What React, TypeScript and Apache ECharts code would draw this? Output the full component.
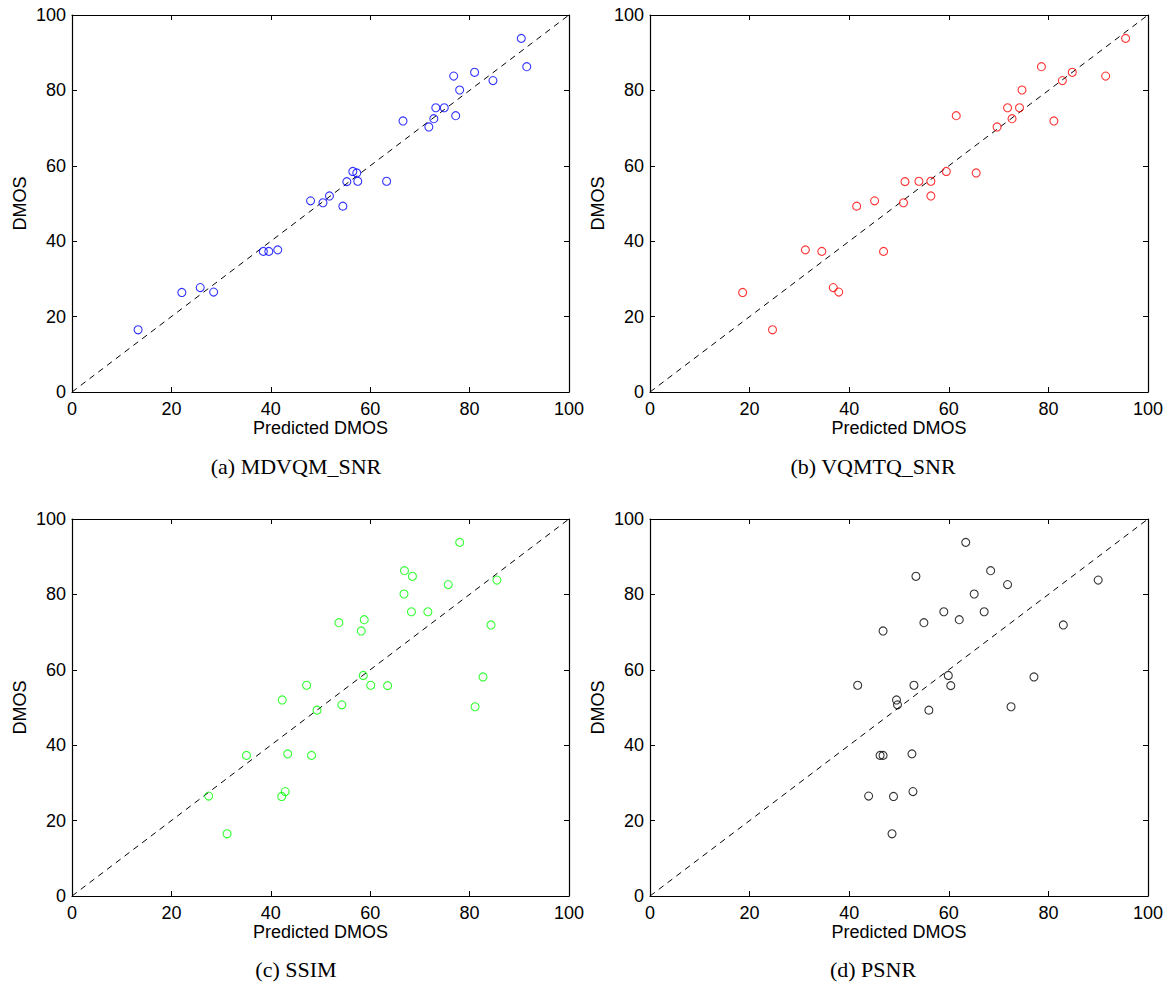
import React, { useEffect, useRef } from "react";
import * as echarts from "echarts";

// [predicted DMOS, DMOS]
const mdvqmPoints: number[][] = [
  [13.3, 16.5], [22.1, 26.4], [25.8, 27.7], [28.5, 26.5], [38.5, 37.3], [39.6, 37.3],
  [41.4, 37.7], [48.0, 50.7], [50.5, 50.2], [51.8, 52.0], [54.5, 49.3], [55.3, 55.8],
  [56.5, 58.5], [57.3, 58.1], [57.5, 55.9], [63.3, 55.9], [66.6, 71.9], [71.8, 70.3],
  [72.8, 72.5], [73.2, 75.4], [74.9, 75.4], [77.2, 73.3], [76.8, 83.8], [78.0, 80.1],
  [81.0, 84.8], [84.7, 82.6], [90.4, 93.8], [91.5, 86.3],
];
const vqmtqPoints: number[][] = [
  [18.6, 26.4], [24.6, 16.5], [31.2, 37.7], [34.5, 37.3], [36.8, 27.7], [37.9, 26.5],
  [41.5, 49.3], [45.1, 50.7], [46.9, 37.3], [50.9, 50.2], [51.2, 55.8], [54.0, 55.9],
  [56.4, 55.9], [56.4, 52.0], [59.5, 58.5], [61.5, 73.3], [65.5, 58.1], [69.7, 70.3],
  [71.8, 75.4], [72.7, 72.5], [74.2, 75.4], [74.7, 80.1], [78.6, 86.3], [81.1, 71.9],
  [82.8, 82.6], [84.8, 84.8], [91.5, 83.8], [95.5, 93.8],
];
const ssimPoints: number[][] = [
  [27.5, 26.5], [31.2, 16.5], [35.1, 37.3], [42.3, 52.0], [42.2, 26.4], [42.9, 27.7],
  [43.4, 37.7], [47.2, 55.9], [48.2, 37.3], [49.3, 49.3], [53.7, 72.5], [54.3, 50.7],
  [58.2, 70.3], [58.6, 58.5], [58.8, 73.3], [60.1, 55.9], [63.5, 55.8], [66.8, 80.1],
  [66.9, 86.3], [68.3, 75.4], [68.5, 84.8], [71.6, 75.4], [75.7, 82.6], [78.0, 93.8],
  [81.1, 50.2], [82.7, 58.1], [84.3, 71.9], [85.5, 83.8],
];
const psnrPoints: number[][] = [
  [41.7, 55.9], [43.9, 26.5], [46.2, 37.3], [46.8, 37.3], [46.8, 70.3], [48.6, 16.5],
  [48.9, 26.4], [49.5, 52.0], [49.7, 50.7], [52.6, 37.7], [52.8, 27.7], [53.0, 55.9],
  [53.4, 84.8], [55.0, 72.5], [56.0, 49.3], [59.0, 75.4], [59.9, 58.5], [60.4, 55.8],
  [62.1, 73.3], [63.4, 93.8], [65.1, 80.1], [67.1, 75.4], [68.4, 86.3], [71.8, 82.6],
  [72.5, 50.2], [77.1, 58.1], [83.0, 71.9], [90.0, 83.8],
];
const identityLine: number[][] = [[0, 0], [100, 100]];
const captions = ["(a) MDVQM_SNR", "(b) VQMTQ_SNR", "(c) SSIM", "(d) PSNR"];
const xAxisName = "Predicted DMOS";
const yAxisName = "DMOS";
const axisMin = 0;
const axisMax = 100;
const axisInterval = 20;

const panels = [
  { points: mdvqmPoints, color: "#0000ff" },
  { points: vqmtqPoints, color: "#ff0000" },
  { points: ssimPoints, color: "#00ff00" },
  { points: psnrPoints, color: "#000000" },
];

const SANS = "'Liberation Sans', Arial, Helvetica, sans-serif";
const SERIF = "'Liberation Serif', 'Times New Roman', serif";

const grids = [
  { left: 72, top: 15, width: 497, height: 377 },
  { left: 650, top: 15, width: 498, height: 377 },
  { left: 72, top: 519, width: 497, height: 377 },
  { left: 650, top: 519, width: 498, height: 377 },
];
const captionPos = [
  { x: 296, y: 466 },
  { x: 873, y: 466 },
  { x: 296, y: 969 },
  { x: 873, y: 969 },
];

export default function App() {
  const ref = useRef<HTMLDivElement>(null);
  useEffect(() => {
    if (!ref.current) return;
    const chart = echarts.init(ref.current, null, { renderer: "svg" });
    const lineStyle = { color: "#000", width: 1.2 };
    const tick = { show: true, inside: true, length: 5, lineStyle: { color: "#000", width: 1 } };
    const xAxis: any[] = [];
    const yAxis: any[] = [];
    const series: any[] = [];
    grids.forEach((_, i) => {
      const common = {
        type: "value",
        gridIndex: i,
        min: axisMin,
        max: axisMax,
        interval: axisInterval,
        splitLine: { show: false },
        axisLine: { show: true, onZero: false, lineStyle },
        axisTick: tick,
      };
      xAxis.push({
        ...common,
        position: "bottom",
        name: xAxisName,
        nameLocation: "middle",
        nameGap: 27,
        nameTextStyle: { fontFamily: SANS, fontSize: 18, color: "#000" },
        axisLabel: { show: true, margin: 8, fontFamily: SANS, fontSize: 18, color: "#000" },
      });
      xAxis.push({ ...common, position: "top", axisLabel: { show: false } });
      yAxis.push({
        ...common,
        position: "left",
        name: yAxisName,
        nameLocation: "middle",
        nameGap: 43,
        nameTextStyle: { fontFamily: SANS, fontSize: 18, color: "#000" },
        axisLabel: { show: true, margin: 6, fontFamily: SANS, fontSize: 18, color: "#000" },
      });
      yAxis.push({ ...common, position: "right", axisLabel: { show: false } });
      series.push({
        type: "line",
        xAxisIndex: i * 2,
        yAxisIndex: i * 2,
        data: identityLine,
        showSymbol: false,
        symbol: "none",
        lineStyle: { color: "#000", width: 1, type: [6, 5] },
        silent: true,
        z: 1,
      });
      series.push({
        type: "scatter",
        xAxisIndex: i * 2,
        yAxisIndex: i * 2,
        data: panels[i].points,
        symbol: "circle",
        symbolSize: 8,
        itemStyle: { color: "transparent", borderColor: panels[i].color, borderWidth: 1.1 },
        z: 2,
      });
    });
    chart.setOption({
      animation: false,
      backgroundColor: "#ffffff",
      grid: grids.map((g) => ({ ...g, containLabel: false })),
      xAxis,
      yAxis,
      series,
      graphic: captions.map((c, i) => ({
        type: "text",
        x: captionPos[i].x,
        y: captionPos[i].y,
        style: {
          text: c,
          fontFamily: SERIF,
          fontSize: 22,
          fill: "#000",
          align: "center",
          verticalAlign: "middle",
        },
      })),
    });
    return () => chart.dispose();
  }, []);
  return (
    <div
      ref={ref}
      style={{ position: "absolute", left: 0, top: 0, width: 1171, height: 983, background: "#fff" }}
    />
  );
}
